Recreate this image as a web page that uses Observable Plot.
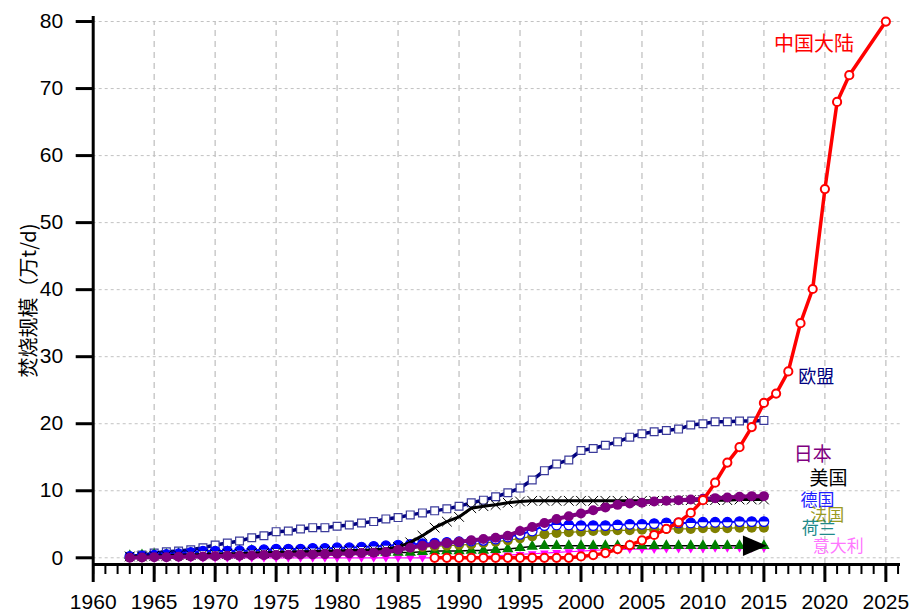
<!DOCTYPE html>
<html><head><meta charset="utf-8">
<script src="https://cdn.jsdelivr.net/npm/d3@7"></script>
<script src="https://cdn.jsdelivr.net/npm/@observablehq/plot@0.6"></script>
<style>body{margin:0;background:#fff}</style>
</head><body><div id="chart"></div>
<script>
const years = [1963,1964,1965,1966,1967,1968,1969,1970,1971,1972,1973,1974,1975,1976,1977,1978,1979,1980,1981,1982,1983,1984,1985,1986,1987,1988,1989,1990,1991,1992,1993,1994,1995,1996,1997,1998,1999,2000,2001,2002,2003,2004,2005,2006,2007,2008,2009,2010,2011,2012,2013,2014,2015];
const eu = [0.2,0.4,0.7,0.9,1.0,1.2,1.5,1.9,2.2,2.5, 3.0,3.3,3.9,4.0,4.3,4.5,4.5,4.7,4.9,5.2, 5.4,5.8,6.0,6.4,6.7,7.0,7.3,7.7,8.2,8.6, 9.1,9.7,10.4,11.6,13.0,14.0,14.6,16.0,16.3,16.8, 17.3,18.0,18.5,18.8,19.0,19.2,19.8,20.0,20.3,20.3, 20.4,20.4,20.5];
const usa = [0.2,0.2,0.3,0.3,0.4,0.4,0.5,0.5,0.6,0.6, 0.7,0.7,0.8,0.8,0.9,0.9,1.0,1.0,1.1,1.1, 1.2,1.3,1.6,2.3,3.3,4.5,5.4,6.1,7.4,7.7, 7.9,8.2,8.4,8.5,8.5,8.5,8.5,8.5,8.5,8.5, 8.5,8.5,8.5,8.5,8.5,8.6,8.6,8.6,8.6,8.6, 8.7,8.7,8.7];
const japan = [0.0,0.05,0.1,0.1,0.15,0.2,0.2,0.25,0.3,0.3, 0.35,0.4,0.4,0.45,0.5,0.5,0.55,0.6,0.65,0.7, 0.75,0.85,1.2,1.5,1.8,2.0,2.2,2.4,2.6,2.8, 3.0,3.3,4.0,4.6,5.2,5.8,6.2,6.6,7.1,7.5, 7.9,8.1,8.2,8.4,8.5,8.6,8.7,8.8,8.9,9.0, 9.1,9.2,9.2];
const germany = [0.2,0.3,0.4,0.5,0.6,0.8,1.0,1.0,1.0,1.05, 1.1,1.2,1.3,1.3,1.3,1.4,1.4,1.5,1.5,1.6, 1.7,1.8,1.9,2.0,2.1,2.2,2.3,2.4,2.5,2.6, 2.8,3.1,3.5,4.0,4.8,4.9,4.9,4.8,4.8,4.8, 4.9,5.0,5.0,5.1,5.2,5.2,5.2,5.3,5.3,5.3, 5.4,5.4,5.4];
const france = [0.1,0.1,0.2,0.2,0.3,0.3,0.4,0.4,0.5,0.5, 0.6,0.6,0.7,0.7,0.8,0.8,0.9,1.0,1.0,1.1, 1.2,1.3,1.4,1.5,1.6,1.7,1.8,1.9,2.0,2.2, 2.4,2.6,2.9,3.2,3.5,3.7,3.8,3.9,4.0,4.0, 4.1,4.1,4.2,4.2,4.3,4.3,4.3,4.4,4.4,4.4, 4.5,4.5,4.5];
const netherlands = [0.3,0.4,0.5,0.5,0.6,0.7,0.8,0.9,0.9,1.0, 1.1,1.0,1.0,1.0,1.0,1.0,1.0,0.9,0.9,0.9, 0.8,0.8,0.8,0.8,0.9,1.0,1.0,1.0,1.1,1.1, 1.2,1.3,1.5,1.7,1.8,1.8,1.8,1.8,1.8,1.8, 1.8,1.8,1.8,1.8,1.8,1.8,1.8,1.8,1.8,1.8, 1.8,1.8,1.8];
const italy = [0,0,0,0,0,0,0,0,0,0, 0,0,0,0,0,0,0,0,0,0, 0,0,0,0,0,0,0,0,0.1,0.2, 0.3,0.4,0.5,0.6,0.7,0.8,0.9,1.0,1.1,1.2, 1.2,1.3,1.3,1.3,1.4,1.4,1.4,1.4,1.5,1.5, 1.5,1.5,1.5];
const chinaYears = [1988,1989,1990,1991,1992,1993,1994,1995,1996,1997,1998,1999,2000,2001,2002,2003,2004,2005,2006,2007,2008,2009,2010,2011,2012,2013,2014,2015,2016,2017,2018,2019,2020,2021,2022,2025];
const china = [0,0,0,0,0,0,0,0,0,0,0,0, 0.2,0.4,0.7,1.3,1.9,2.6,3.4,4.3,5.3,6.7,8.6,11.2,14.2,16.5,19.5,23.1,24.5,27.8,35.0,40.1,55.0,68.0,72.0,80.0];

const xTicks = [1960,1965,1970,1975,1980,1985,1990,1995,2000,2005,2010,2015,2020,2025];
const xMinor = [1960,1961,1962,1963,1964,1965,1966,1967,1968,1969,1970,1971,1972,1973,1974,1975,1976,1977,1978,1979,1980,1981,1982,1983,1984,1985,1986,1987,1988,1989,1990,1991,1992,1993,1994,1995,1996,1997,1998,1999,2000,2001,2002,2003,2004,2005,2006,2007,2008,2009,2010,2011,2012,2013,2014,2015,2016,2017,2018,2019,2020,2021,2022,2023,2024,2025,2026];
const yTicks = [0,10,20,30,40,50,60,70,80];
const yTitle = "焚烧规模（万t/d)";

const labels = [
  {name:"中国大陆", x:2019.1, y:76.6, color:"#ff0000", size:20},
  {name:"欧盟", x:2019.3, y:26.9, color:"#000080", size:18},
  {name:"日本", x:2019.0, y:15.3, color:"#800080", size:19},
  {name:"美国", x:2020.3, y:11.8, color:"#000000", size:19},
  {name:"德国", x:2019.4, y:8.55, color:"#2020ff", size:17},
  {name:"法国", x:2020.2, y:6.3, color:"#9a9a22", size:17},
  {name:"荷兰", x:2019.5, y:4.4, color:"#208a8a", size:17},
  {name:"意大利", x:2021.1, y:1.7, color:"#ff77ff", size:17}
];

const rows = (xs, vs) => xs.map((x, i) => ({year: x, value: vs[i]}));
const dEU = rows(years, eu), dUSA = rows(years, usa), dJP = rows(years, japan),
      dDE = rows(years, germany), dFR = rows(years, france), dNL = rows(years, netherlands),
      dIT = rows(years, italy), dCN = rows(chinaYears, china);

const halfTop = {draw(ctx, size){ const r = Math.sqrt(size/Math.PI); ctx.moveTo(-r,0); ctx.arc(0,0,r,Math.PI,2*Math.PI); ctx.closePath(); }};
const downTri = {draw(ctx, size){ const r = Math.sqrt(size/Math.PI); ctx.moveTo(0,r); ctx.lineTo(-r*0.87,-r*0.5); ctx.lineTo(r*0.87,-r*0.5); ctx.closePath(); }};
const arrowHead = {draw(ctx, size){ const r = Math.sqrt(size/Math.PI); ctx.moveTo(r*0.25,0); ctx.lineTo(-r*1.75,-r*0.85); ctx.lineTo(-r*1.75,r*0.85); ctx.closePath(); }};

const X = "year", Y = "value";
const yMin = -1;

const chart = Plot.plot({
  width: 914, height: 614,
  marginLeft: 92.7, marginRight: 14, marginTop: 16, marginBottom: 50,
  x: {domain: [1960, 2026.2]},
  y: {domain: [yMin, 80.75]},
  style: {fontFamily: "'Liberation Sans', Arial, 'Noto Sans CJK SC', sans-serif", fontSize: "21px", color: "#000", background: "#fff"},
  marks: [
    Plot.ruleY(yTicks, {stroke: "#c2c2c2", strokeDasharray: "3,3", strokeWidth: 1}),
    Plot.ruleX(xTicks.slice(1), {y1: yMin, y2: 80, stroke: "#c2c2c2", strokeDasharray: "6,5", strokeWidth: 1.3}),
    // EU
    Plot.line(dEU, {x: X, y: Y, stroke: "#000080", strokeWidth: 3.5}),
    Plot.dot(dEU, {x: X, y: Y, symbol: "square", r: 4.4, fill: "#fff", stroke: "#3a3a9a", strokeWidth: 1.2}),
    // Italy
    Plot.line(dIT, {x: X, y: Y, stroke: "#ff00ff", strokeWidth: 1.2}),
    Plot.dot(dIT, {x: X, y: Y, symbol: downTri, r: 5, fill: "#ff00ff", stroke: "none"}),
    // Netherlands
    Plot.line(dNL, {x: X, y: Y, stroke: "#000", strokeWidth: 1.5}),
    Plot.dot(dNL, {x: X, y: Y, symbol: "triangle", r: 4.2, fill: "#008000", stroke: "none"}),
    Plot.dot(dNL.slice(-1), {x: X, y: Y, symbol: arrowHead, r: 12, fill: "#000", stroke: "none"}),
    // France
    Plot.line(dFR, {x: X, y: Y, stroke: "#808000", strokeWidth: 1.2}),
    Plot.dot(dFR, {x: X, y: Y, symbol: "circle", r: 5, fill: "#808000", stroke: "none"}),
    // Germany
    Plot.line(dDE, {x: X, y: Y, stroke: "#0000ff", strokeWidth: 2}),
    Plot.dot(dDE, {x: X, y: Y, symbol: "circle", r: 4.8, fill: "#fff", stroke: "#0000ff", strokeWidth: 1.2}),
    Plot.dot(dDE, {x: X, y: Y, symbol: halfTop, r: 4.8, fill: "#0000ff", stroke: "none"}),
    // USA
    Plot.line(dUSA, {x: X, y: Y, stroke: "#000", strokeWidth: 3}),
    Plot.dot(dUSA, {x: X, y: Y, symbol: "times", r: 4.5, fill: "none", stroke: "#000", strokeWidth: 1}),
    // Japan
    Plot.line(dJP, {x: X, y: Y, stroke: "#800080", strokeWidth: 4}),
    Plot.dot(dJP, {x: X, y: Y, symbol: "circle", r: 5, fill: "#800080", stroke: "none"}),
    // China
    Plot.line(dCN, {x: X, y: Y, stroke: "#ff0000", strokeWidth: 3.5}),
    Plot.dot(dCN, {x: X, y: Y, symbol: "circle", r: 4.1, fill: "#fff", stroke: "#ff0000", strokeWidth: 2}),
    // labels
    ...labels.map(l => Plot.text([l], {x: "x", y: "y", text: "name", fill: l.color, fontSize: l.size, fontFamily: "'Noto Sans CJK SC', sans-serif"})),
    Plot.text([yTitle], {frameAnchor: "left", textAnchor: "middle", rotate: -90, dx: -64, dy: 10, fontSize: 20, fill: "#000", fontFamily: "'Noto Sans CJK SC', sans-serif"}),
    // axes
    Plot.axisX({ticks: xMinor, tickSize: 10, strokeWidth: 2, tickFormat: () => "", label: null}),
    Plot.axisX({ticks: xTicks, tickSize: 18, tickPadding: 12, strokeWidth: 3, fontSize: 21, tickFormat: d => String(d), label: null}),
    Plot.axisY({ticks: yTicks, tickSize: 17, tickPadding: 13, strokeWidth: 3, fontSize: 21, tickFormat: d => String(d), label: null}),
    Plot.ruleY([yMin], {stroke: "#000", strokeWidth: 3}),
    Plot.ruleX([1960], {stroke: "#000", strokeWidth: 3})
  ]
});
document.getElementById("chart").appendChild(chart);
</script>
</body></html>
